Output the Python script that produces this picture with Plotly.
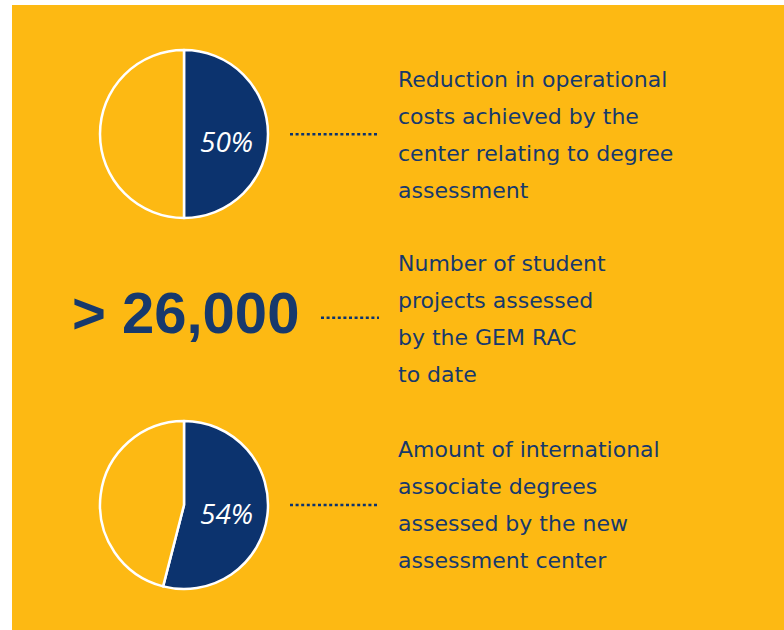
import plotly.graph_objects as go

# values
pie_shares = [50, 54]              # percent shown in navy
pie_labels = ["50%", "54%"]
big_number = "> 26,000"
blocks = [
    ["Reduction in operational", "costs achieved by the",
     "center relating to degree", "assessment"],
    ["Number of student", "projects assessed", "by the GEM RAC", "to date"],
    ["Amount of international", "associate degrees",
     "assessed by the new", "assessment center"],
]

W, H = 784, 630
YELLOW = "#FDB913"
NAVY = "#0C336E"
TEXT = "#17396C"

fig = go.Figure()

# pie geometry in pixels (center x, center y, radius)
pies = [(184, 134, 84), (184, 505, 84)]
for (cx, cy, r), share in zip(pies, pie_shares):
    fig.add_trace(go.Pie(
        values=[share, 100 - share],
        marker=dict(colors=[NAVY, YELLOW], line=dict(color="white", width=2.5)),
        sort=False, direction="clockwise", rotation=0,
        textinfo="none", hoverinfo="skip", showlegend=False,
        domain=dict(x=[(cx - r) / W, (cx + r) / W],
                    y=[1 - (cy + r) / H, 1 - (cy - r) / H]),
    ))

# invisible pixel axes for shapes / annotations
fig.update_xaxes(range=[0, W], visible=False, fixedrange=True)
fig.update_yaxes(range=[H, 0], visible=False, fixedrange=True)
fig.add_trace(go.Scatter(x=[0], y=[0], mode="markers", marker=dict(opacity=0),
                         showlegend=False, hoverinfo="skip"))

shapes = [dict(type="rect", xref="x", yref="y", x0=12, x1=W, y0=5, y1=H,
               fillcolor=YELLOW, line=dict(width=0), layer="below")]

# dotted connectors
for x0, y in [(290, 134.3), (321, 317.8), (290, 505)]:
    shapes.append(dict(type="line", xref="x", yref="y", x0=x0, x1=379, y0=y, y1=y,
                       line=dict(color=NAVY, width=2.5, dash="3px,2.6px")))

ann = []
# pie labels
for (cx, cy, r), lab, ly in zip(pies, pie_labels, [141, 512.5]):
    ann.append(dict(x=226, y=ly, xref="x", yref="y", text=lab, showarrow=False,
                    xanchor="center", yanchor="middle",
                    font=dict(family="Open Sans", size=28, color="white",
                              style="italic")))

ann.append(dict(x=301, y=312, xref="x", yref="y", text="<b>%s</b>" % big_number,
                showarrow=False, xanchor="right", yanchor="middle",
                font=dict(family="Liberation Sans", size=58, color=TEXT)))

starts = [79.4, 263.5, 449.7]
for lines, y0 in zip(blocks, starts):
    for i, line in enumerate(lines):
        ann.append(dict(x=396, y=y0 + i * 36.9, xref="x", yref="y", text=line,
                        showarrow=False, xanchor="left", yanchor="middle",
                        font=dict(family="DejaVu Sans", size=22, color=TEXT)))

fig.update_layout(width=W, height=H, margin=dict(l=0, r=0, t=0, b=0),
                  paper_bgcolor="white", plot_bgcolor="rgba(0,0,0,0)",
                  shapes=shapes, annotations=ann)

fig.write_html("out.html", config={"displayModeBar": False},
               post_script="document.body.style.margin='0';")
